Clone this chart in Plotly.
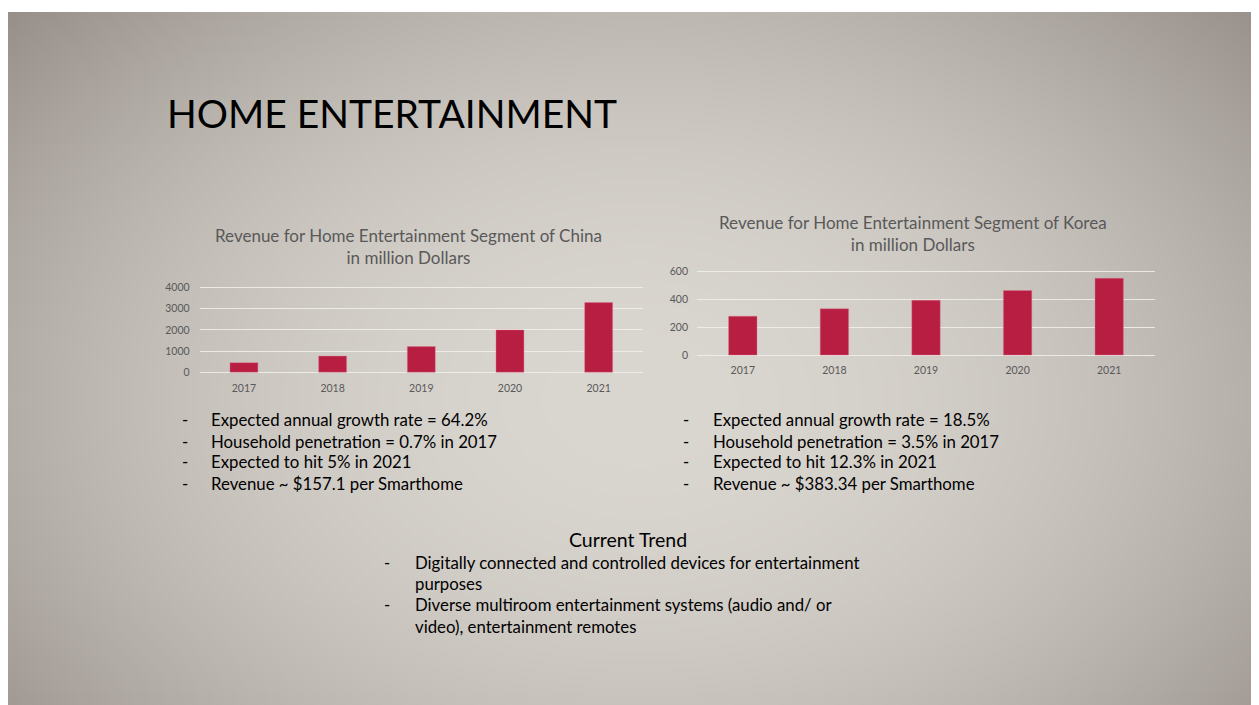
import zlib, struct, base64
import numpy as np
import plotly.graph_objects as go

# figure sits inside the page's default 8px body margin
W, H = 1247, 712
OX, OY = 8, 8

# ---------------- data ----------------
years = ["2017", "2018", "2019", "2020", "2021"]
china_revenue = [450, 760, 1210, 2000, 3290]
korea_revenue = [280, 333, 395, 465, 553]
china_ticks = [0, 1000, 2000, 3000, 4000]
korea_ticks = [0, 200, 400, 600]

slide_title = "HOME ENTERTAINMENT"
china_title = "Revenue for Home Entertainment Segment of China<br>in million Dollars"
korea_title = "Revenue for Home Entertainment Segment of Korea<br>in million Dollars"
china_bullets = ["Expected annual growth rate = 64.2%",
                 "Household penetration = 0.7% in 2017",
                 "Expected to hit 5% in 2021",
                 "Revenue ~ $157.1 per Smarthome"]
korea_bullets = ["Expected annual growth rate = 18.5%",
                 "Household penetration = 3.5% in 2017",
                 "Expected to hit 12.3% in 2021",
                 "Revenue ~ $383.34 per Smarthome"]
trend_title = "Current Trend"
trend_lines = [("-", "Digitally connected and controlled devices for entertainment"),
               ("", "purposes"),
               ("-", "Diverse multiroom entertainment systems (audio and/ or"),
               ("", "video), entertainment remotes")]

FONT = "Lato"
BAR = "#B81D42"
GREY = "#595959"
GRID = "rgba(240,238,235,0.9)"

# ---------------- background gradient as PNG ----------------
def png_uri(arr):
    h, w, _ = arr.shape
    raw = b"".join(b"\x00" + arr[r].tobytes() for r in range(h))
    def chunk(t, d):
        c = struct.pack(">I", len(d)) + t + d
        return c + struct.pack(">I", zlib.crc32(t + d) & 0xffffffff)
    png = (b"\x89PNG\r\n\x1a\n" +
           chunk(b"IHDR", struct.pack(">IIBBBBB", w, h, 8, 2, 0, 0, 0)) +
           chunk(b"IDAT", zlib.compress(raw, 9)) + chunk(b"IEND", b""))
    return "data:image/png;base64," + base64.b64encode(png).decode()

gw, gh = 312, 178
gx = np.linspace(OX, OX + W, gw)
gy = np.linspace(OY, OY + H, gh)
X, Y = np.meshgrid(gx, gy)
d = np.sqrt(((X - 640) / 700) ** 2 + ((Y - 400) / 500) ** 2)
t = np.clip((d / 1.22) ** 2, 0, 1.1)
c0 = np.array([218, 214, 208], float)
c1 = np.array([149, 141, 135], float)
img = c0[None, None, :] + (c1 - c0)[None, None, :] * t[..., None]
img = np.clip(img, 0, 255).astype(np.uint8)
bg_uri = png_uri(img)

# ---------------- helpers (screen pixel coords -> paper) ----------------
def px(x):
    return (x - OX) / W

def py(y):
    return 1 - (y - OY) / H

def xdom(p0, p1):
    return [px(p0), px(p1)]

def ydom(v_lo, v_hi, pix_a, val_a, pix_b, val_b):
    ppu = (pix_a - pix_b) / (val_b - val_a)
    p_lo = pix_a + (val_a - v_lo) * ppu
    p_hi = pix_a - (v_hi - val_a) * ppu
    return [py(p_lo), py(p_hi)]

fig = go.Figure()

bar_line = dict(color="rgba(222,120,145,0.7)", width=0.6)
fig.add_trace(go.Bar(x=years, y=china_revenue, xaxis="x", yaxis="y",
                     marker=dict(color=BAR, line=bar_line), width=0.315, hoverinfo="x+y"))
fig.add_trace(go.Bar(x=years, y=korea_revenue, xaxis="x2", yaxis="y2",
                     marker=dict(color=BAR, line=bar_line), width=0.31, hoverinfo="x+y"))

c_rng = [-100, 4100]
k_rng = [-15, 615]

axis_common = dict(showline=False, zeroline=False, ticks="",
                   tickfont=dict(family=FONT, size=10.5, color=GREY), fixedrange=True)

fig.update_layout(
    width=W, height=H,
    margin=dict(l=0, r=0, t=0, b=0),
    paper_bgcolor="white", plot_bgcolor="rgba(0,0,0,0)",
    showlegend=False,
    xaxis=dict(domain=xdom(199.6, 643), showgrid=False, anchor="y",
               ticklabelstandoff=6, **axis_common),
    yaxis=dict(domain=ydom(c_rng[0], c_rng[1], 372.3, 0, 286.7, 4000), range=c_rng,
               tickvals=china_ticks, showgrid=True, gridcolor=GRID, gridwidth=1,
               anchor="x", ticklabelstandoff=9, **axis_common),
    xaxis2=dict(domain=xdom(697, 1155), showgrid=False, anchor="y2",
                ticklabelstandoff=5, **axis_common),
    yaxis2=dict(domain=ydom(k_rng[0], k_rng[1], 355, 0, 270.7, 600), range=k_rng,
                tickvals=korea_ticks, showgrid=True, gridcolor=GRID, gridwidth=1,
                anchor="x2", ticklabelstandoff=8, **axis_common),
    images=[dict(source=bg_uri, xref="paper", yref="paper",
                 x=0, y=1, sizex=1, sizey=1,
                 xanchor="left", yanchor="top", sizing="stretch", layer="below")],
)

ann = []
def text(x, y, s, size, color="black", anchor="left"):
    ann.append(dict(x=px(x), y=py(y), xref="paper", yref="paper", text=s,
                    showarrow=False, xanchor=anchor, yanchor="middle",
                    font=dict(family=FONT, size=size, color=color)))

text(165, 110, slide_title, 39)
text(408, 245, china_title, 17, GREY, "center")
text(913, 232, korea_title, 17, GREY, "center")

BODY = 16.8
rows = [420, 442, 463, 485]
for yy, s in zip(rows, china_bullets):
    text(185, yy, "-", BODY, anchor="center")
    text(209, yy, s, BODY)
for yy, s in zip(rows, korea_bullets):
    text(686, yy, "-", BODY, anchor="center")
    text(711, yy, s, BODY)

text(628, 541, trend_title, 19.5, anchor="center")
for yy, (dash, s) in zip([565, 586, 607, 629], trend_lines):
    if dash:
        text(387, yy, dash, BODY, anchor="center")
    text(413, yy, s, BODY)

fig.update_layout(annotations=ann)
fig.write_html("out.html")
